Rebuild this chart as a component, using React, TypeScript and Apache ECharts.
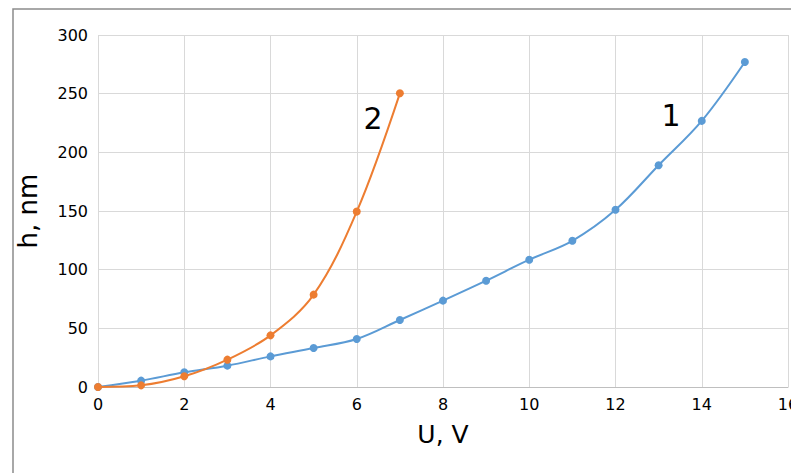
import React, { useEffect, useRef } from "react";
import * as echarts from "echarts";

const uValues = [0, 1, 2, 3, 4, 5, 6, 7, 8, 9, 10, 11, 12, 13, 14, 15];
const series1H = [0, 5.4, 12.5, 18.2, 26.1, 33.2, 40.9, 57.1, 73.6, 90.6, 108.5, 124.6, 151, 189, 226.8, 277];
const u2Values = [0, 1, 2, 3, 4, 5, 6, 7];
const series2H = [0, 1.4, 9.1, 23.3, 44, 78.7, 149.5, 250.3];
const curveLabels = [
  { name: "1", coord: [13.29, 231] },
  { name: "2", coord: [6.38, 229] },
];

export default function App() {
  const ref = useRef<HTMLDivElement>(null);
  useEffect(() => {
    if (!ref.current) return;
    const chart = echarts.init(ref.current, undefined, { renderer: "svg" });
    const font = "'DejaVu Sans', Verdana, sans-serif";
    const pair = (xs: number[], ys: number[]) => xs.map((x, i) => [x, ys[i]]);
    const mkLabel = (l: { name: string; coord: number[] }) => ({
      coord: l.coord,
      symbol: "circle",
      symbolSize: 0,
      label: {
        show: true,
        position: "inside",
        formatter: l.name,
        fontSize: 30,
        color: "#000",
        fontFamily: font,
      },
    });
    chart.setOption({
      animation: false,
      backgroundColor: "#fff",
      graphic: [
        {
          type: "rect",
          shape: { x: 13, y: 9, width: 900, height: 600 },
          style: { fill: "none", stroke: "#8c8c8c", lineWidth: 1.5 },
          silent: true,
          z: -1,
        },
      ],
      grid: {
        left: 98,
        top: 35,
        right: 3,
        bottom: 86,
        containLabel: false,
        outerBoundsMode: "none",
      },
      xAxis: {
        type: "value",
        min: 0,
        max: 16,
        interval: 2,
        name: "U, V",
        nameLocation: "middle",
        nameGap: 35,
        nameTextStyle: { fontSize: 25, color: "#000", fontFamily: font },
        axisLine: { show: true, lineStyle: { color: "#bfbfbf", width: 1 } },
        axisTick: { show: false },
        axisLabel: { fontSize: 16, color: "#000", fontFamily: font, margin: 9, hideOverlap: false },
        splitLine: { show: true, lineStyle: { color: "#d9d9d9", width: 1 } },
      },
      yAxis: {
        type: "value",
        min: 0,
        max: 300,
        interval: 50,
        name: "h, nm",
        nameLocation: "middle",
        nameGap: 57,
        nameTextStyle: { fontSize: 26, color: "#000", fontFamily: font },
        axisLine: { show: false },
        axisTick: { show: false },
        axisLabel: { fontSize: 16, color: "#000", fontFamily: font, margin: 10 },
        splitLine: { show: true, lineStyle: { color: "#d9d9d9", width: 1 } },
      },
      series: [
        {
          type: "line",
          name: "1",
          data: pair(uValues, series1H),
          smooth: 0.35,
          symbol: "circle",
          symbolSize: 8,
          lineStyle: { color: "#5b9bd5", width: 2 },
          itemStyle: { color: "#5b9bd5" },
          markPoint: { data: [mkLabel(curveLabels[0])] },
          z: 2,
        },
        {
          type: "line",
          name: "2",
          data: pair(u2Values, series2H),
          smooth: 0.35,
          symbol: "circle",
          symbolSize: 8,
          lineStyle: { color: "#ed7d31", width: 2 },
          itemStyle: { color: "#ed7d31" },
          markPoint: { data: [mkLabel(curveLabels[1])] },
          z: 3,
        },
      ],
    });
    return () => chart.dispose();
  }, []);
  return (
    <div
      ref={ref}
      style={{ position: "fixed", left: 0, top: 0, width: 791, height: 473 }}
    />
  );
}
